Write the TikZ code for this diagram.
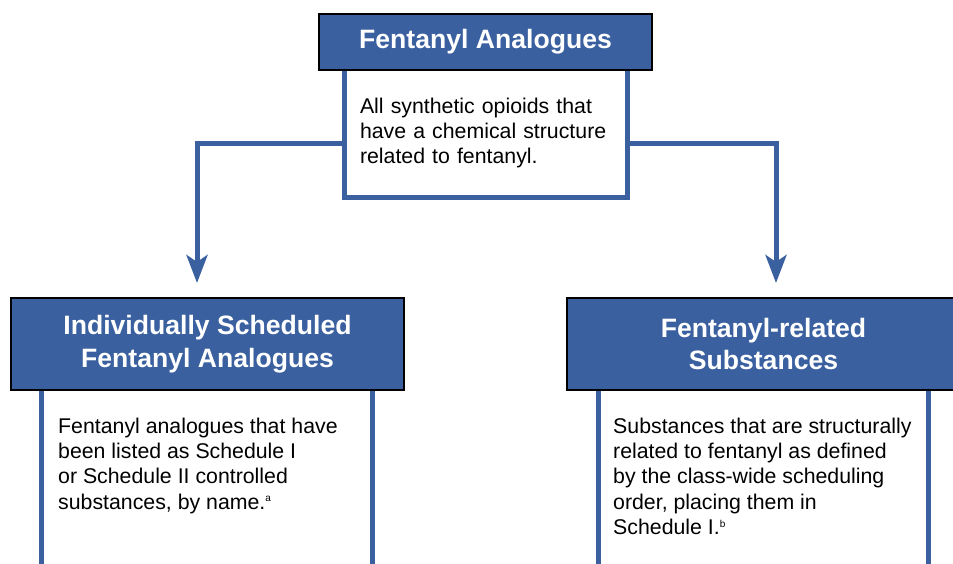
\documentclass[tikz,border=0pt]{standalone}
\usepackage{fontspec}
\setmainfont{Liberation Sans}
\usetikzlibrary{arrows.meta}
\definecolor{dojblue}{RGB}{58,96,160}
\newcommand{\fnmark}[1]{\textsuperscript{\fontsize{10}{10}\selectfont #1}}
\tikzset{
	headbox/.style={draw=black, line width=2.5pt, fill=dojblue, text=white, align=center,
		font=\fontsize{26.6}{32.7}\selectfont\bfseries},
	bodybox/.style={draw=dojblue, line width=5pt, fill=white, align=left, inner xsep=15.5pt,
		font=\fontsize{21.3}{25.4}\selectfont},
	bodytext/.style={align=left, inner sep=0pt, font=\fontsize{21.3}{25.4}\selectfont},
	bodyline/.style={draw=dojblue, line width=5pt},
	flowarrow/.style={draw=dojblue, line width=5pt, -{Stealth[length=28pt,width=21pt,inset=7pt]}}
}
\begin{document}
\begin{tikzpicture}[x=1pt,y=-1pt]
		\useasboundingbox (0,0) rectangle (953,563);
		
		%Oberster Kasten
		\node[bodybox, minimum width=283pt, minimum height=129pt, text width=252pt] (topBody) at (486,133)
			{All synthetic opioids that\\have a chemical structure\\related to fentanyl.};
		\node[headbox, minimum width=333pt, minimum height=56pt] (topHead) at (485.5,42) {Fentanyl Analogues};
		
		%Pfeile
		\coordinate (leftTip) at (197,283);
		\coordinate (rightTip) at (776,283);
		\draw[flowarrow] ([yshift=-10pt]topBody.west) -| (leftTip);
		\draw[flowarrow] ([yshift=-10pt]topBody.east) -| (rightTip);
		
		%Linker Kasten
		\node[headbox, minimum width=393pt, minimum height=92pt] (leftHead) at (207.5,344)
			{Individually Scheduled\\Fentanyl Analogues};
		\draw[bodyline] ([xshift=32pt]leftHead.south west) -- ++(0,190);
		\draw[bodyline] ([xshift=363pt]leftHead.south west) -- ++(0,190);
		\node[bodytext, anchor=north west] (leftBody) at (58,417.5)
			{Fentanyl analogues that have\\been listed as Schedule I\\or Schedule II controlled\\substances, by name.\fnmark{a}};
		
		%Rechter Kasten
		\node[headbox, minimum width=393pt, minimum height=92pt] (rightHead) at (763.5,344)
			{Fentanyl-related\\Substances};
		\draw[bodyline] ([xshift=33pt]rightHead.south west) -- ++(0,190);
		\draw[bodyline] ([xshift=363pt]rightHead.south west) -- ++(0,190);
		\node[bodytext, anchor=north west] (rightBody) at (613,417.5)
			{Substances that are structurally\\related to fentanyl as defined\\by the class-wide scheduling\\order, placing them in\\Schedule I.\fnmark{b}};
	\end{tikzpicture}
\end{document}
